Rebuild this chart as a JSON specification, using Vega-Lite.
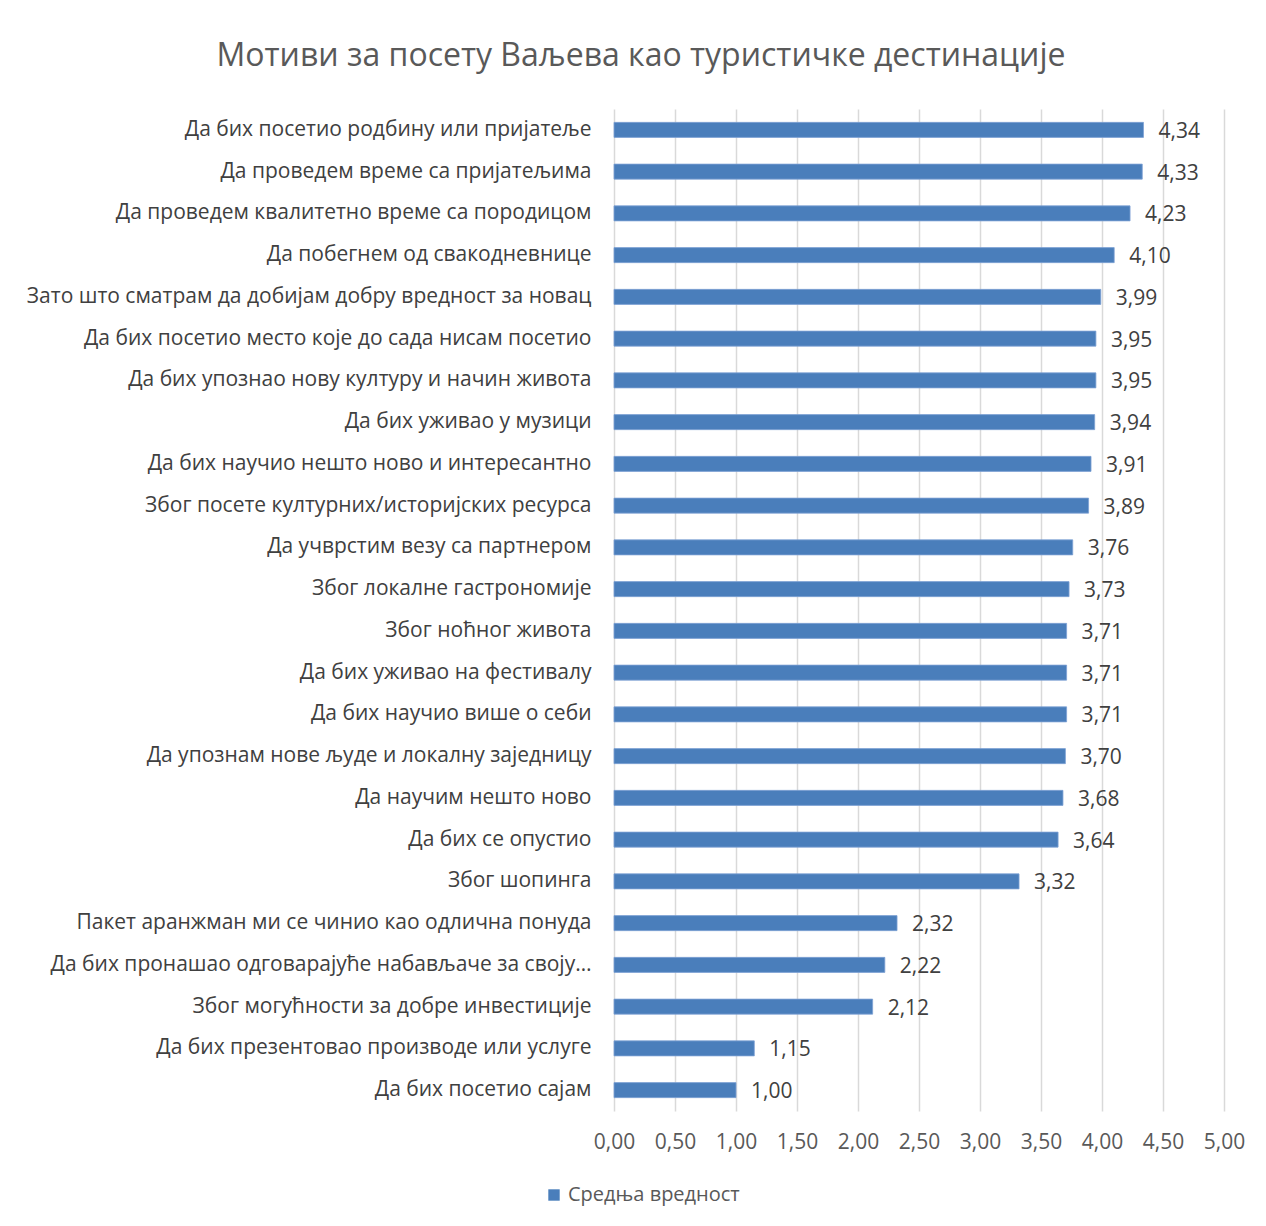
{
  "$schema": "https://vega.github.io/schema/vega-lite/v6.json",
  "width": 610,
  "height": 1002,
  "autosize": "none",
  "padding": {"left": 614, "top": 109, "right": 42, "bottom": 115},
  "background": "white",
  "config": {
    "locale": {"number": {"decimal": ",", "thousands": ".", "grouping": [3], "currency": ["", " €"]}},
    "font": "Open Sans",
    "view": {"stroke": null}
  },
  "title": {
    "text": "Мотиви за посету Ваљева као туристичке дестинације",
    "fontSize": 32,
    "fontWeight": "normal",
    "color": "#595959",
    "anchor": "middle",
    "frame": "group",
    "dx": -278,
    "offset": 36
  },
  "data": {
    "values": [
      {"motiv": "Да бих посетио родбину или пријатеље", "vrednost": 4.34, "serija": "Средња вредност"},
      {"motiv": "Да проведем време са пријатељима", "vrednost": 4.33, "serija": "Средња вредност"},
      {"motiv": "Да проведем квалитетно време са породицом", "vrednost": 4.23, "serija": "Средња вредност"},
      {"motiv": "Да побегнем од свакодневнице", "vrednost": 4.10, "serija": "Средња вредност"},
      {"motiv": "Зато што сматрам да добијам добру вредност за новац", "vrednost": 3.99, "serija": "Средња вредност"},
      {"motiv": "Да бих посетио место које до сада нисам посетио", "vrednost": 3.95, "serija": "Средња вредност"},
      {"motiv": "Да бих упознао нову културу и начин живота", "vrednost": 3.95, "serija": "Средња вредност"},
      {"motiv": "Да бих уживао у музици", "vrednost": 3.94, "serija": "Средња вредност"},
      {"motiv": "Да бих научио нешто ново и интересантно", "vrednost": 3.91, "serija": "Средња вредност"},
      {"motiv": "Због посете културних/историјских ресурса", "vrednost": 3.89, "serija": "Средња вредност"},
      {"motiv": "Да учврстим везу са партнером", "vrednost": 3.76, "serija": "Средња вредност"},
      {"motiv": "Због локалне гастрономије", "vrednost": 3.73, "serija": "Средња вредност"},
      {"motiv": "Због ноћног живота", "vrednost": 3.71, "serija": "Средња вредност"},
      {"motiv": "Да бих уживао на фестивалу", "vrednost": 3.71, "serija": "Средња вредност"},
      {"motiv": "Да бих научио више о себи", "vrednost": 3.71, "serija": "Средња вредност"},
      {"motiv": "Да упознам нове људе и локалну заједницу", "vrednost": 3.70, "serija": "Средња вредност"},
      {"motiv": "Да научим нешто ново", "vrednost": 3.68, "serija": "Средња вредност"},
      {"motiv": "Да бих се опустио", "vrednost": 3.64, "serija": "Средња вредност"},
      {"motiv": "Због шопинга", "vrednost": 3.32, "serija": "Средња вредност"},
      {"motiv": "Пакет аранжман ми се чинио као одлична понуда", "vrednost": 2.32, "serija": "Средња вредност"},
      {"motiv": "Да бих пронашао одговарајуће набављаче за своју…", "vrednost": 2.22, "serija": "Средња вредност"},
      {"motiv": "Због могућности за добре инвестиције", "vrednost": 2.12, "serija": "Средња вредност"},
      {"motiv": "Да бих презентовао производе или услуге", "vrednost": 1.15, "serija": "Средња вредност"},
      {"motiv": "Да бих посетио сајам", "vrednost": 1.00, "serija": "Средња вредност"}
    ]
  },
  "encoding": {
    "y": {
      "field": "motiv",
      "type": "nominal",
      "sort": null,
      "title": null,
      "scale": {"paddingInner": 0.64, "paddingOuter": 0.32},
      "axis": {
        "ticks": false,
        "domain": false,
        "labelFontSize": 21,
        "labelColor": "#404040",
        "labelPadding": 23,
        "labelLimit": 620,
        "grid": false
      }
    },
    "x": {
      "field": "vrednost",
      "type": "quantitative",
      "title": null,
      "scale": {"domain": [0, 5], "nice": false},
      "axis": {
        "values": [0, 0.5, 1, 1.5, 2, 2.5, 3, 3.5, 4, 4.5, 5],
        "format": ".2f",
        "ticks": false,
        "domain": false,
        "grid": true,
        "gridColor": "#d9d9d9",
        "gridWidth": 1.5,
        "labelFlush": false,
        "labelFontSize": 21,
        "labelColor": "#595959",
        "labelPadding": 20
      }
    }
  },
  "layer": [
    {
      "mark": {"type": "bar", "stroke": "#7da1d4", "strokeWidth": 0.8},
      "encoding": {
        "color": {
          "field": "serija",
          "type": "nominal",
          "scale": {"range": ["#4a7ebb"]},
          "legend": {
            "title": null,
            "orient": "none",
            "legendX": -70,
            "legendY": 1076,
            "symbolType": "square",
            "symbolSize": 130,
            "symbolStrokeWidth": 0,
            "labelFontSize": 20,
            "labelLimit": 400,
            "labelColor": "#595959",
            "labelOffset": 4
          }
        }
      }
    },
    {
      "mark": {"type": "text", "align": "left", "dx": 15, "dy": 2, "fontSize": 21, "color": "#404040"},
      "encoding": {
        "text": {"field": "vrednost", "type": "quantitative", "format": ".2f"}
      }
    }
  ]
}
